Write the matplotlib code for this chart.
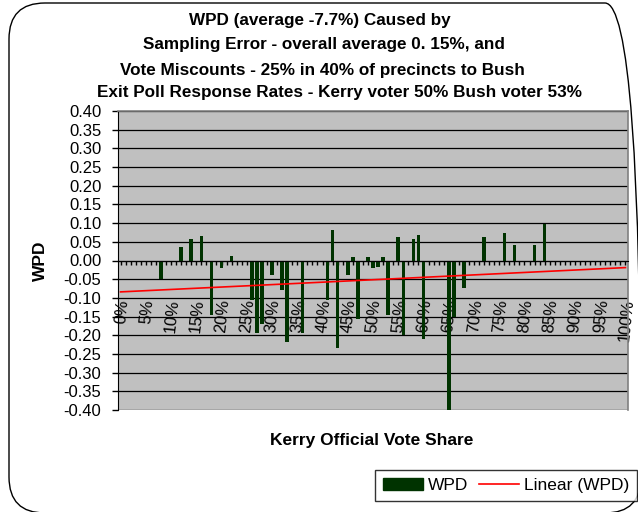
import matplotlib
matplotlib.use("Agg")
import matplotlib.pyplot as plt
from matplotlib.patches import FancyBboxPatch, Patch
from matplotlib.lines import Line2D
from matplotlib.transforms import IdentityTransform, ScaledTranslation
import matplotlib.ticker as ticker

plt.rcParams['font.family'] = ['Liberation Sans', 'DejaVu Sans']

# Kerry official vote share (%) and WPD
vote_share = [8, 12, 14, 16, 18, 20, 22, 26, 27, 28, 30, 32, 33, 36,
              41, 42, 43, 45, 46, 47, 49, 50, 51, 52, 53, 55, 56, 58,
              59, 60, 65, 66, 68, 72, 76, 78, 82, 84]
wpd = [-0.050, 0.035, 0.057, 0.065, -0.145, -0.021, 0.013, -0.105, -0.193, -0.169,
       -0.038, -0.078, -0.218, -0.193, -0.105, 0.081, -0.233, -0.038, 0.009, -0.157,
       0.009, -0.021, -0.017, 0.009, -0.145, 0.062, -0.198, 0.057, 0.069, -0.209,
       -0.400, -0.151, -0.073, 0.062, 0.073, 0.041, 0.041, 0.098]

# linear trendline end points (0% and 100%)
trend_x = [0, 100]
trend_y = [-0.084, -0.019]

y_ticks = [i * 0.05 for i in range(-8, 9)]
y_labels = ["%.2f" % v for v in y_ticks]
x_ticks = list(range(0, 101, 5))
x_labels = ["%d%%" % v for v in x_ticks]

title_lines = ["WPD (average -7.7%) Caused by",
               "Sampling Error - overall average 0. 15%, and",
               "Vote Miscounts - 25% in 40% of precincts to Bush",
               "Exit Poll Response Rates - Kerry voter 50% Bush voter 53%"]

W, H = 638, 512
fig = plt.figure(figsize=(W / 100, H / 100), dpi=100)
fig.patch.set_facecolor('white')

# rounded chart border
fig.patches.append(FancyBboxPatch((9, -1), 632, 510, boxstyle="round,pad=0,rounding_size=36",
                                  transform=IdentityTransform(), facecolor='none',
                                  edgecolor='black', lw=1.0, figure=fig))

ax = fig.add_axes([118 / W, 1 - 410 / H, 510 / W, 299 / H])
ax.set_facecolor('#C0C0C0')

bar_color = '#003300'
ax.bar(vote_share, wpd, width=0.7, color=bar_color, zorder=3)
ax.plot(trend_x, trend_y, color='red', lw=1.2, zorder=4)

ax.set_xlim(-0.5, 100.5)
ax.set_ylim(-0.40, 0.40)

ax.set_yticks(y_ticks)
ax.set_yticklabels(y_labels, fontsize=12)
ax.yaxis.grid(True, color='black', lw=0.9)
ax.set_axisbelow(True)
ax.tick_params(axis='y', direction='out', length=4, width=1, pad=8)

ax.spines['bottom'].set_position(('data', 0))
ax.spines['bottom'].set_zorder(5)
ax.spines['left'].set_color('black')
for s in ['top', 'right']:
    ax.spines[s].set_color('#808080')
    ax.spines[s].set_linewidth(1.2)

ax.set_xticks(x_ticks)
ax.xaxis.set_minor_locator(ticker.MultipleLocator(1))
ax.set_xticklabels(x_labels, fontsize=12, rotation=84, ha='right', va='center',
                   rotation_mode='anchor')
ax.tick_params(axis='x', which='both', direction='out', length=3, width=1, pad=25)
offset = ScaledTranslation(2 / 72, 0, fig.dpi_scale_trans)
for lab in ax.get_xticklabels():
    lab.set_transform(lab.get_transform() + offset)

# title, one line at a time
title_pos = [(320, 21), (324, 45), (322, 70), (339, 93)]
for line, (tx, ty) in zip(title_lines, title_pos):
    fig.text(tx / W, 1 - ty / H, line, ha='center', va='center',
             fontsize=12.3, fontweight='bold')

fig.text(40 / W, 1 - 261 / H, "WPD", rotation=90, ha='center', va='center',
         fontsize=12.5, fontweight='bold')
fig.text(372 / W, 1 - 440 / H, "Kerry Official Vote Share", ha='center', va='center',
         fontsize=12.5, fontweight='bold')

handles = [Patch(facecolor=bar_color, edgecolor=bar_color),
           Line2D([], [], color='red', lw=1.2)]
leg = fig.legend(handles, ["WPD", "Linear (WPD)"], loc='lower right',
                 bbox_to_anchor=(637 / W, 1 - 501 / H), ncol=2, fontsize=12.5,
                 frameon=True, fancybox=False, edgecolor='black',
                 handlelength=2.3, handleheight=0.7, handletextpad=0.3,
                 columnspacing=0.6, borderpad=0.45, borderaxespad=0)
leg.get_frame().set_linewidth(1.0)

fig.savefig("out.png", dpi=100, facecolor='white')
